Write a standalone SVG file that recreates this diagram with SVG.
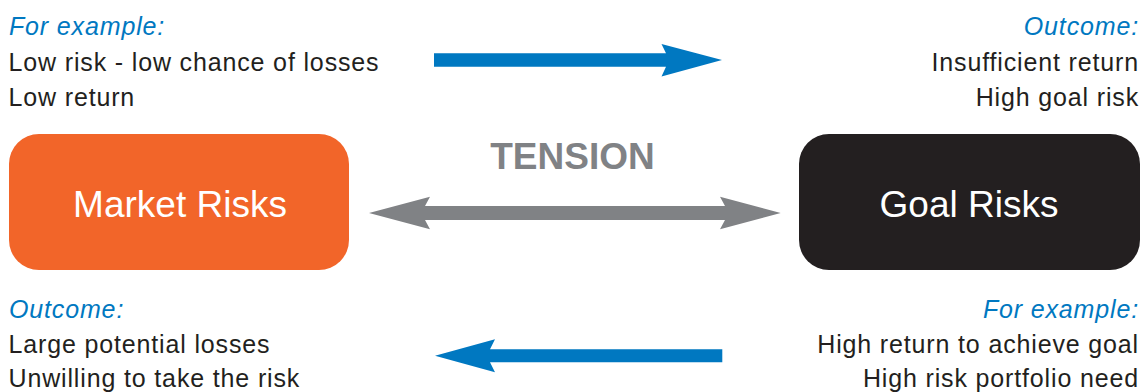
<svg xmlns="http://www.w3.org/2000/svg" width="1143" height="392" viewBox="0 0 1143 392">
<style>
.t{font-family:"Liberation Sans",Arial,sans-serif;font-size:25px;letter-spacing:0.85px;fill:#231F20}
.h{font-style:italic;fill:#0078C1}
.e{text-anchor:end}
.n{font-family:"Liberation Sans",Arial,sans-serif;font-size:37px;fill:#ffffff;text-anchor:middle}
.blue{fill:#0078C1}
.grey{fill:#808285}
</style>
<rect width="1143" height="392" fill="#ffffff"/>
<g id="market-risks">
<rect x="9" y="134" width="340" height="136" rx="30" ry="30" fill="#F26529"/>
<text class="n" x="180" y="217">Market Risks</text>
</g>
<g id="goal-risks">
<rect x="799" y="134" width="341" height="136" rx="30" ry="30" fill="#231F20"/>
<text class="n" x="969" y="217">Goal Risks</text>
</g>
<g id="tension-label">
<text x="572.5" y="169" font-family="Liberation Sans,Arial,sans-serif" font-size="37" font-weight="bold" text-anchor="middle" fill="#808285">TENSION</text>
</g>
<g id="top-left-text">
<text class="t h" x="9" y="35">For example:</text>
<text class="t" x="8.5" y="71">Low risk - low chance of losses</text>
<text class="t" x="8.5" y="106">Low return</text>
</g>
<g id="top-right-text">
<text class="t h e" x="1139" y="35">Outcome:</text>
<text class="t e" x="1139" y="71">Insufficient return</text>
<text class="t e" x="1139" y="106">High goal risk</text>
</g>
<g id="bottom-left-text">
<text class="t h" x="9" y="318">Outcome:</text>
<text class="t" x="8.5" y="353">Large potential losses</text>
<text class="t" x="8.5" y="387">Unwilling to take the risk</text>
</g>
<g id="bottom-right-text">
<text class="t h e" x="1139" y="318">For example:</text>
<text class="t e" x="1139" y="353">High return to achieve goal</text>
<text class="t e" x="1139" y="387">High risk portfolio need</text>
</g>
<g id="connectors">
<polygon class="blue" points="434,53.3 666,53.3 661.5,44 722,60 661.5,76.5 666,66.7 434,66.7"/>
<polygon class="blue" points="722.3,349.3 490,349.3 495,339.3 435,355.8 495,372.3 490,362.3 722.3,362.3"/>
<polygon class="grey" points="369,213 430,196.7 425,206 725,206 720,196.7 780.7,213 720,229.3 725,220 425,220 430,229.3"/>
</g>
</svg>
